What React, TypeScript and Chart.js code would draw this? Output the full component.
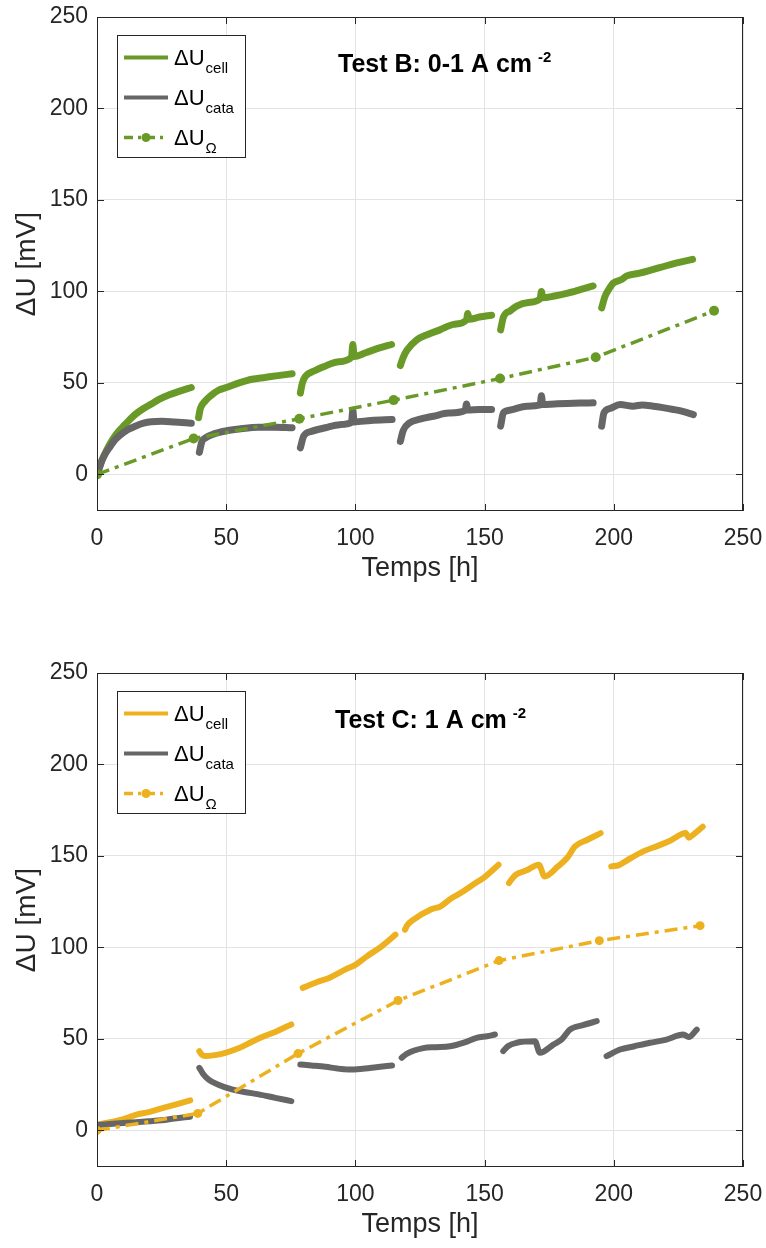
import React, { useEffect, useRef } from 'react';
import { Chart, registerables } from 'chart.js';

Chart.register(...registerables);

// ---------- axes ----------
const X_TICKS = [0, 50, 100, 150, 200, 250];
const Y_TICKS = [0, 50, 100, 150, 200, 250];
const X_RANGE = [0, 250];
const Y_RANGE = [-20, 250];

// ---------- Test B (0-1 A cm-2) ----------
const B_CELL: number[][][] = [
  [[0, 0], [1, 4], [2, 8], [4, 14], [6, 19], [8, 23], [10, 26], [12, 29], [15, 33], [18, 36], [21, 38.5], [24, 41], [28, 43.5], [32, 45.5], [36.5, 47.5]],
  [[39.3, 31], [40, 36], [41.8, 40], [44, 43], [47, 46], [50, 47.5], [55, 50], [60, 52], [65, 53], [70, 54], [75.5, 55]],
  [[78.7, 44.5], [79.5, 50], [80.6, 53.5], [84, 56.5], [88, 59], [93, 61.5], [98.5, 64], [99, 71], [99.5, 64.5], [104, 66.5], [109, 69], [114, 71]],
  [[117.4, 59.5], [118.5, 64], [120, 68], [123.7, 73.5], [128, 76.5], [132.7, 79], [138, 82], [143, 84.5], [143.5, 88], [144, 84.8], [148, 86], [152.7, 87]],
  [[156.2, 79], [157.3, 86], [160, 89.5], [162.4, 92], [167, 94], [171.5, 96], [172, 100], [172.5, 96.5], [177, 97.5], [181.8, 99], [187, 101], [192, 103]],
  [[195.3, 91], [196.6, 97.3], [198, 101], [199.8, 104.5], [203, 106.5], [205, 108.5], [210, 110], [214, 111.5], [219, 113.5], [224, 115.5], [230.5, 117.5]],
];
const B_CATA: number[][][] = [
  [[0, 0], [1, 4], [2, 8], [3.5, 12], [5, 15], [7, 19], [9, 21.5], [12, 24.5], [15, 26.5], [18, 28], [21, 28.8], [25, 29], [30, 28.6], [36.5, 28]],
  [[39.6, 12], [40.6, 18], [42, 20], [45, 22], [49.7, 23.7], [55, 24.8], [62.6, 25.8], [69, 25.8], [75.5, 25.5]],
  [[78.7, 14.5], [80, 21], [83, 23.5], [88.4, 25.5], [94, 27.2], [98.5, 28.5], [99, 35], [99.5, 28.7], [106, 29.5], [114.2, 30]],
  [[117.4, 18], [118.5, 24], [121, 28.2], [125, 30.2], [130.2, 31.8], [136, 33.5], [142.5, 35], [143, 38.5], [143.5, 35.2], [148, 35.5], [152.7, 35.5]],
  [[156.2, 26.4], [157.3, 33.7], [160, 35.2], [166.3, 37.3], [171.5, 38], [172, 43], [172.5, 38.2], [177, 38.5], [181.8, 38.8], [187, 39], [192, 39.1]],
  [[195.3, 26.4], [196.2, 33.7], [198.5, 36], [202.4, 38.2], [207.5, 37.3], [211, 38], [215.3, 37.3], [219, 36.5], [223, 35.5], [227, 34.3], [230.8, 32.7]],
];
const B_OHM: number[][] = [[0, 0], [37.4, 19.6], [78.3, 30.4], [114.8, 40.6], [156, 52.4], [193, 64], [238.8, 89.4]];

// ---------- Test C (1 A cm-2) ----------
const C_CELL: number[][][] = [
  [[0, 3], [5, 4.5], [10, 6], [13, 7.5], [15, 8.5], [20, 10], [25, 12], [30, 14], [36.1, 16.4]],
  [[39.6, 43.3], [40.5, 41.5], [41.9, 40.6], [45, 41], [49.7, 42.4], [55, 45], [60, 48.5], [63.9, 51], [70, 54.5], [75.2, 57.9]],
  [[79.6, 77.9], [85, 81], [90, 83.5], [96, 87.9], [100, 90.5], [104.3, 95], [110, 100.5], [115.5, 107]],
  [[119.2, 109.7], [120, 112], [122.5, 115.2], [129, 120.6], [133, 122.5], [137.3, 127], [141, 130], [145.5, 134.3], [150, 138.5], [155.4, 145.2]],
  [[159.4, 135.2], [162, 139.7], [166, 142], [171, 145.2], [173.2, 138.8], [178.4, 144.3], [182, 149], [185, 155.2], [190, 159], [194.9, 162.5]],
  [[199, 144.3], [202, 145], [205, 147.5], [211.4, 152.5], [217, 155.5], [222, 158.5], [227.8, 162.5], [229, 160], [231, 162], [234.4, 166]],
];
const C_CATA: number[][][] = [
  [[0, 3], [5, 3.5], [10, 4], [15, 4.5], [20, 5], [25, 5.5], [30, 6.5], [36, 7.5]],
  [[39.6, 34.2], [41, 31], [43.2, 27.8], [47, 25], [52.2, 22.4], [57, 21], [62.6, 19.7], [69, 17.8], [75.2, 16]],
  [[78.7, 36], [83, 35.5], [88.4, 34.8], [93, 33.8], [97.4, 33.3], [102, 33.6], [108, 34.5], [114.2, 35.5]],
  [[117.9, 39.7], [120, 42], [126.3, 45], [131, 45.5], [136.6, 46], [142, 48], [146.9, 50.6], [151, 51.5], [154, 52.4]],
  [[157.2, 43.3], [159, 46], [162.4, 47.9], [169.5, 48.7], [171.4, 42.4], [176.6, 46.9], [180, 50], [183, 55.1], [188, 57.5], [193.4, 59.7]],
  [[197.2, 40.6], [202.4, 44.2], [208, 46], [214, 47.9], [220, 49.5], [226.9, 52.4], [229, 51], [232.1, 55.1]],
];
const C_OHM: number[][] = [[0, 0], [39, 9.3], [77.8, 42], [116.5, 71], [155.6, 92.8], [194.4, 103.7], [233.4, 111.9]];

// ---------- labels ----------
const X_LABEL = 'Temps [h]';
const Y_LABEL = 'ΔU [mV]';
const LEGEND_SUBS = ['cell', 'cata', 'Ω'];

const GREEN = '#699A28';
const YELLOW = '#EDB120';
const GRAY = '#666666';
const AXIS = '#262626';
const FONT = '"Liberation Sans", Arial, Helvetica, sans-serif';

const W = 766;
const H = 592;

function flatten(segs: number[][][]) {
  const out: { x: number; y: number | null }[] = [];
  segs.forEach((s, i) => {
    if (i > 0) {
      const prev = segs[i - 1][segs[i - 1].length - 1][0];
      out.push({ x: (prev + s[0][0]) / 2, y: null });
    }
    s.forEach(([x, y]) => out.push({ x, y }));
  });
  return out;
}

const framePlugin = {
  id: 'matlabFrame',
  afterDatasetsDraw(chart: any, _a: any, opts: any) {
    const { ctx, chartArea: a, scales } = chart;
    const sx = scales.x;
    const sy = scales.y;
    ctx.save();
    ctx.strokeStyle = AXIS;
    ctx.lineWidth = 1;
    ctx.strokeRect(Math.round(a.left) + 0.5, Math.round(a.top) + 0.5, Math.round(a.right - a.left) - 1, Math.round(a.bottom - a.top) - 1);
    const tl = 7;
    ctx.beginPath();
    X_TICKS.forEach((v) => {
      const px = Math.round(sx.getPixelForValue(v)) + 0.5;
      ctx.moveTo(px, a.bottom);
      ctx.lineTo(px, a.bottom - tl);
      ctx.moveTo(px, a.top);
      ctx.lineTo(px, a.top + tl);
    });
    Y_TICKS.forEach((v) => {
      const py = Math.round(sy.getPixelForValue(v)) + 0.5;
      ctx.moveTo(a.left, py);
      ctx.lineTo(a.left + tl, py);
      ctx.moveTo(a.right, py);
      ctx.lineTo(a.right - tl, py);
    });
    ctx.stroke();
    ctx.restore();
  },
  afterDraw(chart: any, _a: any, opts: any) {
    const { ctx } = chart;
    ctx.save();
    // legend
    const lx = 117, ly = 35, lw = 128, lh = 122;
    ctx.fillStyle = '#ffffff';
    ctx.fillRect(lx, ly, lw, lh);
    ctx.strokeStyle = AXIS;
    ctx.lineWidth = 1;
    ctx.strokeRect(lx + 0.5, ly + 0.5, lw, lh);
    const colors = [opts.color, GRAY, opts.color];
    LEGEND_SUBS.forEach((sub, i) => {
      const ry = ly + 22.5 + i * 40;
      ctx.strokeStyle = colors[i];
      ctx.lineWidth = i === 2 ? 3.5 : 4;
      ctx.setLineDash(i === 2 ? [9, 5, 3, 5] : []);
      ctx.beginPath();
      ctx.moveTo(lx + 7, ry);
      ctx.lineTo(lx + 51, ry);
      ctx.stroke();
      ctx.setLineDash([]);
      if (i === 2) {
        ctx.fillStyle = colors[i];
        ctx.beginPath();
        ctx.arc(lx + 29, ry, 4.5, 0, Math.PI * 2);
        ctx.fill();
      }
      ctx.fillStyle = '#000000';
      ctx.textBaseline = 'alphabetic';
      ctx.textAlign = 'left';
      ctx.font = '22px ' + FONT;
      ctx.fillText('ΔU', lx + 57, ry + 7.5);
      const w = ctx.measureText('ΔU').width;
      ctx.font = '15px ' + FONT;
      ctx.fillText(sub, lx + 57 + w + 1, ry + 15);
    });
    // title text
    ctx.fillStyle = '#000000';
    ctx.font = 'bold 25px ' + FONT;
    ctx.fillText(opts.title, opts.titleX, 72);
    const tw = ctx.measureText(opts.title).width;
    ctx.font = 'bold 15px ' + FONT;
    ctx.fillText('-2', opts.titleX + tw + 6, 62);
    ctx.restore();
  },
};

function makeConfig(cell: number[][][], cata: number[][][], ohm: number[][], color: string, title: string, titleX: number) {
  const isB = color === GREEN;
  const thick = isB ? 7 : 6;
  return {
    type: 'line',
    data: {
      datasets: [
        {
          data: ohm.map(([x, y]) => ({ x, y })),
          borderColor: color,
          backgroundColor: color,
          borderWidth: 3.5,
          borderDash: [13, 6, 4, 6],
          pointRadius: isB ? 5 : 4.5,
          pointBackgroundColor: color,
          pointBorderWidth: 0,
          order: 1,
        },
        {
          data: flatten(cata),
          borderColor: GRAY,
          borderWidth: thick,
          pointRadius: 0,
          borderCapStyle: 'round',
          borderJoinStyle: 'round',
          cubicInterpolationMode: 'monotone',
          spanGaps: false,
          order: 2,
        },
        {
          data: flatten(cell),
          borderColor: color,
          borderWidth: thick,
          pointRadius: 0,
          borderCapStyle: 'round',
          borderJoinStyle: 'round',
          cubicInterpolationMode: 'monotone',
          spanGaps: false,
          order: 3,
        },
      ],
    },
    options: {
      responsive: false,
      animation: false,
      devicePixelRatio: 1,
      layout: { padding: { top: 17, right: 23, left: 0, bottom: 0 } },
      plugins: {
        legend: { display: false },
        tooltip: { enabled: false },
        matlabFrame: { color, title, titleX },
      },
      scales: {
        x: {
          type: 'linear',
          min: X_RANGE[0],
          max: X_RANGE[1],
          afterBuildTicks: (s: any) => { s.ticks = X_TICKS.map((v) => ({ value: v })); },
          afterFit: (s: any) => { s.height = 81; s.paddingLeft = 0; s.paddingRight = 0; },
          grid: { color: '#e3e3e3', drawTicks: false, lineWidth: 1 },
          border: { display: false },
          ticks: { color: AXIS, font: { family: FONT, size: 23 }, padding: 14, maxRotation: 0, autoSkip: false },
          title: { display: true, text: X_LABEL, color: AXIS, font: { family: FONT, size: 27 }, padding: { top: 0, bottom: 7 } },
        },
        y: {
          type: 'linear',
          min: Y_RANGE[0],
          max: Y_RANGE[1],
          afterBuildTicks: (s: any) => { s.ticks = Y_TICKS.map((v) => ({ value: v })); },
          afterFit: (s: any) => { s.width = 97; s.paddingTop = 0; s.paddingBottom = 0; },
          grid: { color: '#e3e3e3', drawTicks: false, lineWidth: 1 },
          border: { display: false },
          ticks: { color: AXIS, font: { family: FONT, size: 23 }, padding: 9, autoSkip: false },
          title: { display: true, text: Y_LABEL, color: AXIS, font: { family: FONT, size: 28 }, padding: { top: 10, bottom: 0 } },
        },
      },
    },
    plugins: [framePlugin],
  };
}

function Panel(props: { top: number; cfg: any }) {
  const ref = useRef<HTMLCanvasElement | null>(null);
  useEffect(() => {
    if (!ref.current) return;
    const chart = new Chart(ref.current, props.cfg);
    return () => chart.destroy();
  }, []);
  return (
    <canvas
      ref={ref}
      width={W}
      height={H}
      style={{ position: 'absolute', left: 0, top: props.top, width: W, height: H }}
    />
  );
}

export default function App() {
  const cfgB = makeConfig(B_CELL, B_CATA, B_OHM, GREEN, 'Test B: 0-1 A cm', 338);
  const cfgC = makeConfig(C_CELL, C_CATA, C_OHM, YELLOW, 'Test C: 1 A cm', 335);
  return (
    <div style={{ position: 'absolute', left: 0, top: 0, width: 766, height: 1248, background: '#ffffff' }}>
      <Panel top={0} cfg={cfgB} />
      <Panel top={656} cfg={cfgC} />
    </div>
  );
}
